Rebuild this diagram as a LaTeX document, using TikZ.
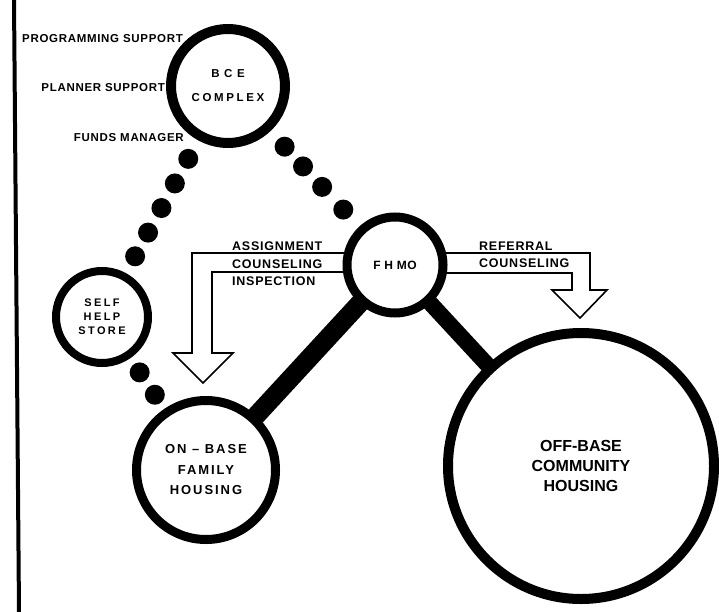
\documentclass[tikz,border=0pt]{standalone}
\usepackage{fontspec}
\setmainfont{Liberation Sans}
\usepackage{tikz}
\usetikzlibrary{calc,backgrounds}

\tikzset{
  hub/.style={circle, draw=black, fill=white, inner sep=0pt, align=center},
  bar/.style={line width=#1, line cap=butt},
  hollow/.style={draw=black, fill=white, line width=1.6pt, line join=miter},
  tag/.style={inner sep=0pt, font=\fontsize{11.5}{13}\selectfont\bfseries\addfontfeatures{LetterSpace=6}},
  flowtag/.style={inner sep=0pt, align=left, font=\fontsize{12.5}{17.5}\selectfont\bfseries\addfontfeatures{LetterSpace=6}},
}

\begin{document}
\begin{tikzpicture}[x=1pt, y=-1pt]
  \useasboundingbox (0,0) rectangle (719,612);

  % margin rule
  \draw[line width=4pt] (14,0) -- (19,612);

  % Circles
  \node[hub, minimum size=114pt, line width=10pt,
        font=\fontsize{11.5}{24}\selectfont\bfseries\addfontfeatures{LetterSpace=23}]
        (bce) at (228,86) {{\addfontfeatures{LetterSpace=40}BCE}\\COMPLEX};
  \node[hub, minimum size=92pt, line width=8pt,
        font=\fontsize{11}{14}\selectfont\bfseries\addfontfeatures{LetterSpace=22}]
        (shs) at (102,317) {SELF\\HELP\\STORE};
  \node[hub, minimum size=96pt, line width=9pt,
        font=\fontsize{12}{13}\selectfont\bfseries\addfontfeatures{LetterSpace=4}]
        (fhmo) at (395,265) {F H MO};
  \node[hub, minimum size=139pt, line width=9pt,
        font=\fontsize{13}{20.5}\selectfont\bfseries\addfontfeatures{LetterSpace=15}]
        (onbase) at (206,470) {ON -- BASE\\FAMILY\\HOUSING};
  \node[hub, minimum size=266pt, line width=10pt,
        font=\fontsize{16}{20}\selectfont\bfseries]
        (offbase) at (581,466) {OFF-BASE\\COMMUNITY\\HOUSING};

  % BCE functions
  \node[tag, anchor=east] (prog) at (183,39) {PROGRAMMING SUPPORT};
  \node[tag, anchor=east] (plan) at (165,88) {PLANNER SUPPORT};
  \node[tag, anchor=east] (fund) at (184,138) {FUNDS MANAGER};

  % Flow labels
  \node[flowtag, anchor=west] (onflow) at (232,264) {ASSIGNMENT\\COUNSELING\\INSPECTION};
  \node[flowtag, anchor=west] (offflow) at (479,255) {REFERRAL\\COUNSELING};

  % Dotted links
  \foreach \d in {83,111,139,167,194}
    \fill ($(bce)!\d pt!(shs)$) circle (10pt);
  \foreach \d in {83,110,138,169}
    \fill ($(bce)!\d pt!(fhmo)$) circle (10pt);
  \foreach \d in {67,94}
    \fill ($(shs)!\d pt!(onbase)$) circle (10pt);

  \begin{scope}[on background layer]
    % Heavy links
    \draw[bar=19pt] (fhmo.center) -- (onbase.center);
    \draw[bar=16pt] (fhmo.center) -- (offbase.center);

    % Service arrows
    \draw[hollow] ($(fhmo)+(0,-12)$) -- (192,253) -- (192,353) -- (173,353)
      -- (203,383) -- (233,353) -- (212,353) -- (212,272) -- ($(fhmo)+(0,7)$) -- cycle;
    \draw[hollow] ($(fhmo)+(0,-12)$) -- (590,253) -- (590,290) -- (607,290)
      -- (580,318) -- (552,290) -- (572,290) -- (572,273) -- ($(fhmo)+(0,8)$) -- cycle;
  \end{scope}
\end{tikzpicture}
\end{document}
